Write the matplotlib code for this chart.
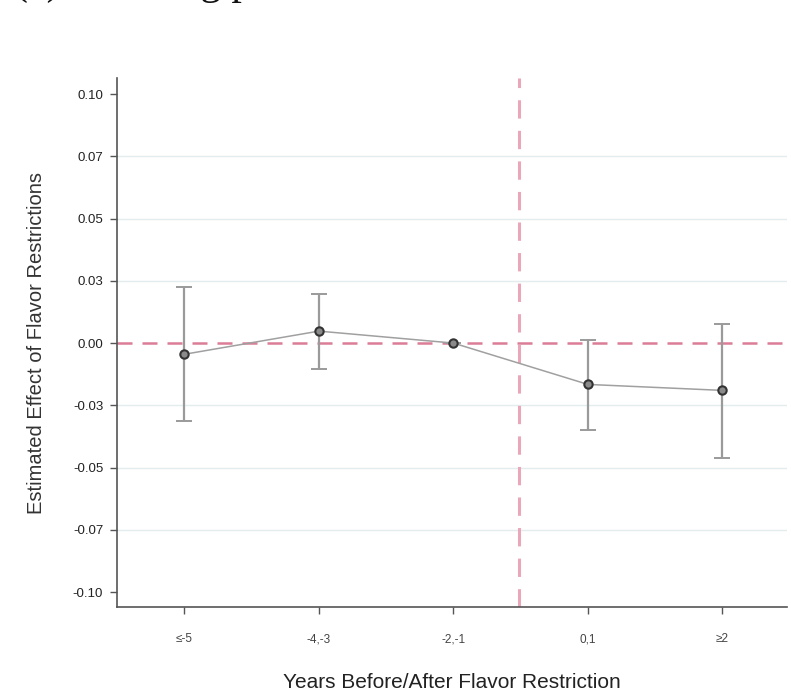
import matplotlib.pyplot as plt
import numpy as np

plt.rcParams['font.family'] = ['Liberation Sans', 'DejaVu Sans']

# event-study estimates by period relative to the restriction
periods = ["≤-5", "-4,-3", "-2,-1", "0,1", "≥2"]
coef = [-0.0045, 0.0048, 0.0, -0.0166, -0.0190]
ci_low = [-0.0313, -0.0103, 0.0, -0.0349, -0.0463]
ci_high = [0.0226, 0.0198, 0.0, 0.0012, 0.0076]

yticks = [-0.1, -0.075, -0.05, -0.025, 0.0, 0.025, 0.05, 0.075, 0.1]
ytick_labels = ["-0.10", "-0.07", "-0.05", "-0.03", "0.00", "0.03", "0.05", "0.07", "0.10"]

x = np.arange(1, len(periods) + 1)
coef = np.array(coef)
err = np.vstack([coef - np.array(ci_low), np.array(ci_high) - coef])

fig = plt.figure(figsize=(7.91, 6.97), dpi=100)
ax = fig.add_axes([0.148, 0.129, 0.847, 0.759])

# interior grid lines only
for t in yticks[1:-1]:
    if t != 0:
        ax.axhline(t, color='#e3ecee', lw=1.0, zorder=0)

ax.axhline(0, color='#dc7d97', lw=1.8, dashes=(6, 4), zorder=1)
ax.axvline(3.49, color='#eaa7ba', lw=2.2, dashes=(6, 4), zorder=1)

ax.errorbar(x, coef, yerr=err, fmt='none', ecolor='#9a9a9a', elinewidth=1.6,
            capsize=5.5, capthick=1.4, zorder=2)
ax.plot(x, coef, color='#a0a0a0', lw=1.1, zorder=3)
ax.plot(x, coef, 'o', ms=6, mfc='#8a8a8a', mec='#333333', mew=1.5, zorder=4)

ax.set_xlim(0.5, 5.48)
ax.set_ylim(-0.106, 0.1064)
ax.set_xticks(x)
ax.set_xticklabels(periods, fontsize=8.5, color='#444444')
ax.set_yticks(yticks)
ax.set_yticklabels(ytick_labels, fontsize=9.5, color='#222222')

for s in ['top', 'right']:
    ax.spines[s].set_visible(False)
for s in ['left', 'bottom']:
    ax.spines[s].set_color('#555555')
    ax.spines[s].set_linewidth(1.2)
ax.tick_params(axis='both', direction='out', length=5, width=1.0, color='#555555', pad=5)
ax.tick_params(axis='x', pad=14)

ax.set_xlabel("Years Before/After Flavor Restriction", fontsize=15, color='#222222', labelpad=20)
ax.set_ylabel("Estimated Effect of Flavor Restrictions", fontsize=14.5, color='#333333', labelpad=19)

# panel title, mostly above the top edge
fig.text(0.018, 1.008, "(a) Smoking prevalence", fontsize=30, family='Liberation Serif',
         va='baseline', ha='left', color='#111111')

fig.savefig("out.png", dpi=100)
